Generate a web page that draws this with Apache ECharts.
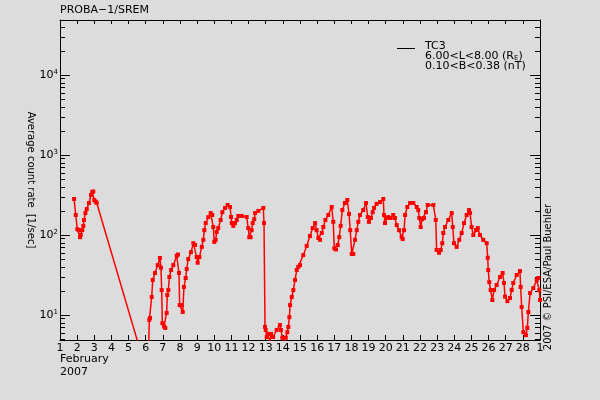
<!DOCTYPE html>
<html><head><meta charset="utf-8">
<script src="https://cdn.jsdelivr.net/npm/echarts@6/dist/echarts.min.js"></script>
<style>html,body{margin:0;padding:0;background:#dcdcdc}#c{width:600px;height:400px}</style>
</head><body><div id="c"></div>
<script>
// Day of February 2007 (29 = 1 March)
const days = [1.82,1.92,2.01,2.11,2.17,2.21,2.30,2.36,2.40,2.48,2.56,2.69,2.81,2.88,2.94,3.00,3.08,3.14,
6.13,6.21,6.25,6.35,6.41,6.54,6.70,6.83,6.89,6.93,6.97,7.07,7.14,7.22,7.26,7.32,7.38,7.48,7.61,7.81,7.88,7.94,7.98,
8.08,8.16,8.23,8.33,8.39,8.48,8.64,8.78,8.88,8.97,9.03,9.13,9.27,9.36,9.42,9.50,9.65,9.79,9.88,9.94,
10.00,10.08,10.14,10.23,10.37,10.47,10.63,10.78,10.92,10.98,11.02,11.11,11.21,11.31,11.40,11.60,11.89,11.98,
12.04,12.12,12.18,12.24,12.33,12.38,12.57,12.86,12.90,12.96,13.00,13.06,13.13,13.25,13.31,13.43,13.64,13.83,13.89,13.97,
14.07,14.17,14.26,14.32,14.38,14.42,14.52,14.61,14.71,14.81,14.90,15.00,15.19,15.39,15.58,15.74,15.88,15.97,
16.07,16.17,16.27,16.36,16.48,16.65,16.85,16.94,17.00,17.10,17.20,17.29,17.37,17.47,17.62,17.76,17.86,17.93,
18.02,18.11,18.21,18.31,18.40,18.50,18.69,18.85,18.95,19.02,19.14,19.24,19.32,19.47,19.67,19.86,19.90,19.96,
20.06,20.15,20.29,20.44,20.54,20.64,20.78,20.93,20.99,21.07,21.13,21.26,21.42,21.61,21.81,21.90,21.96,
22.04,22.13,22.23,22.35,22.45,22.78,22.92,22.97,23.11,23.21,23.30,23.36,23.46,23.65,23.85,23.91,23.98,
24.14,24.29,24.43,24.57,24.72,24.86,24.92,25.01,25.11,25.27,25.37,25.50,25.69,25.89,25.95,25.98,
26.04,26.12,26.22,26.32,26.47,26.67,26.82,26.90,26.96,27.10,27.25,27.35,27.44,27.64,27.83,27.87,27.93,
28.03,28.18,28.26,28.32,28.42,28.61,28.81,28.90,28.96,29.00];
// Average count rate [1/sec]
const rates = [282,178,118,115,94,100,115,130,154,188,211,251,316,345,350,274,261,253,
1.7,8.7,9.2,16.8,27.4,33.5,42,51.6,39,20.5,7.9,7.2,6.9,10.6,17.8,20.5,29.9,36.5,42,55,57,33.5,13.3,
13.3,10.9,22.4,29,37.6,50,61,79,75,53,45,53,71,87,115,141,167,188,178,126,
82,87,109,122,154,193,218,237,224,168,141,130,141,154,173,173,168,122,
94,94,115,141,158,188,200,218,141,7.1,6.5,5.3,5.8,4.5,5.8,5.3,6.5,7.5,6.5,5.2,
3.9,5.2,6.1,7.1,9.4,13.3,16.8,20.5,27.4,36.5,40,42,56,73,97,122,141,115,
92,87,106,126,154,178,224,146,68,66,75,94,130,205,251,274,183,115,
58,58,87,115,146,178,205,251,168,146,163,193,218,245,258,282,178,141,
163,168,163,178,163,133,115,94,89,115,178,224,251,251,224,205,163,
126,158,163,193,237,237,154,65,60,65,79,106,126,154,188,126,79,
71,87,106,141,178,205,188,126,100,115,122,100,87,79,52,36.5,
25.8,20.5,15.4,20.5,23.7,29.9,33.5,25.1,17,14.9,16.3,20.5,25.1,31.6,35.5,22.4,12.6,
6.1,5.6,6.9,10.9,18.8,21.7,27.4,29,20.5,15.4];
const xTickLabels = ['1','2','3','4','5','6','7','8','9','10','11','12','13','14','15','16','17','18','19','20','21','22','23','24','25','26','27','28','1'];
const yMajorTicks = [10,100,1000,10000];
const yMinorTicks = [5,6,7,8,9,20,30,40,50,60,70,80,90,200,300,400,500,600,700,800,900,
  2000,3000,4000,5000,6000,7000,8000,9000,20000,30000,40000];
const titleText = 'PROBA\u22121/SREM';
const legendLines = ['TC3','6.00<L<8.00 (R{sub|E})','0.10<B<0.38 (nT)'];
const creditText = '2007 \u00a9 PSI/ESA/Paul Buehler';
const monthText = 'February\n2007';
const yName = 'Average count rate  [1/sec]';

const FONT = 'DejaVu Sans';
const yMin = 4.87, yMax = 48700;
const data = days.map((d, i) => [d, rates[i]]);

function yAx(pos, ticks, len, showLabel, showLine) {
  return {
    type: 'log', logBase: 10, min: yMin, max: yMax, position: pos,
    splitLine: {show: false},
    axisLine: {show: showLine, lineStyle: {color: '#000', width: 1}},
    axisTick: {show: true, inside: true, length: len, customValues: ticks, lineStyle: {color: '#000'}},
    axisLabel: showLabel ? {
      show: true, customValues: yMajorTicks, margin: 2, color: '#000',
      fontFamily: FONT, fontSize: 11,
      formatter: v => '10{sup|' + Math.round(Math.log10(v)) + '}',
      rich: {sup: {fontSize: 7, fontFamily: FONT, color: '#000', padding: [0, 0, 6, 0]}}
    } : {show: false},
    minorTick: {show: false}
  };
}
function xAx(pos, len, showLabel) {
  return {
    type: 'value', min: 1, max: 29, interval: 1, position: pos,
    splitLine: {show: false},
    axisLine: {show: true, onZero: false, lineStyle: {color: '#000', width: 1}},
    axisTick: {show: true, inside: true, length: len, lineStyle: {color: '#000'}},
    axisLabel: showLabel ? {
      show: true, margin: 3, color: '#000', fontFamily: FONT, fontSize: 11,
      formatter: v => xTickLabels[Math.round(v) - 1]
    } : {show: false}
  };
}

const chart = echarts.init(document.getElementById('c'), null, {renderer: 'canvas'});
const yAxes = [yAx('left', yMajorTicks, 10, true, true), yAx('left', yMinorTicks, 5, false, false),
  yAx('right', yMajorTicks, 10, false, true), yAx('right', yMinorTicks, 5, false, false)];
yAxes[0].name = yName;
yAxes[0].nameLocation = 'middle';
yAxes[0].nameRotate = -90;
yAxes[0].nameGap = 24;
yAxes[0].nameMoveOverlap = false;
yAxes[0].nameTextStyle = {color: '#000', fontFamily: FONT, fontSize: 10};

chart.setOption({
  backgroundColor: '#dcdcdc',
  animation: false,
  grid: {left: 60, right: 60, top: 20, bottom: 60, containLabel: false},
  xAxis: [xAx('bottom', 5, true), xAx('top', 4, false)],
  yAxis: yAxes,
  series: [{
    type: 'line', xAxisIndex: 0, yAxisIndex: 0, data: data,
    clip: true,
    lineStyle: {color: '#ff0000', width: 1.5},
    itemStyle: {color: '#ff0000'},
    symbol: 'rect', symbolSize: 4, showSymbol: true
  }],
  graphic: [
    {type: 'text', left: 60, top: 5, style: {text: titleText, fill: '#000', font: '11px "DejaVu Sans"'}},
    {type: 'line', shape: {x1: 397, y1: 48.5, x2: 415, y2: 48.5}, style: {stroke: '#000', lineWidth: 1}},
    {type: 'text', left: 425, top: 41, style: {
      text: legendLines.join('\n'), fill: '#000', font: '11px "DejaVu Sans"', lineHeight: 10,
      rich: {sub: {fontSize: 7, fontFamily: FONT, fill: '#000', padding: [4, 0, 0, 0]}}
    }},
    {type: 'text', left: 60, top: 353, style: {text: monthText, fill: '#000', font: '11px "DejaVu Sans"', lineHeight: 13}},
    {type: 'text', x: 548, y: 277, rotation: Math.PI / 2, style: {
      text: creditText, fill: '#000', font: '10px "DejaVu Sans"', align: 'center', verticalAlign: 'middle'}}
  ]
});
</script></body></html>
